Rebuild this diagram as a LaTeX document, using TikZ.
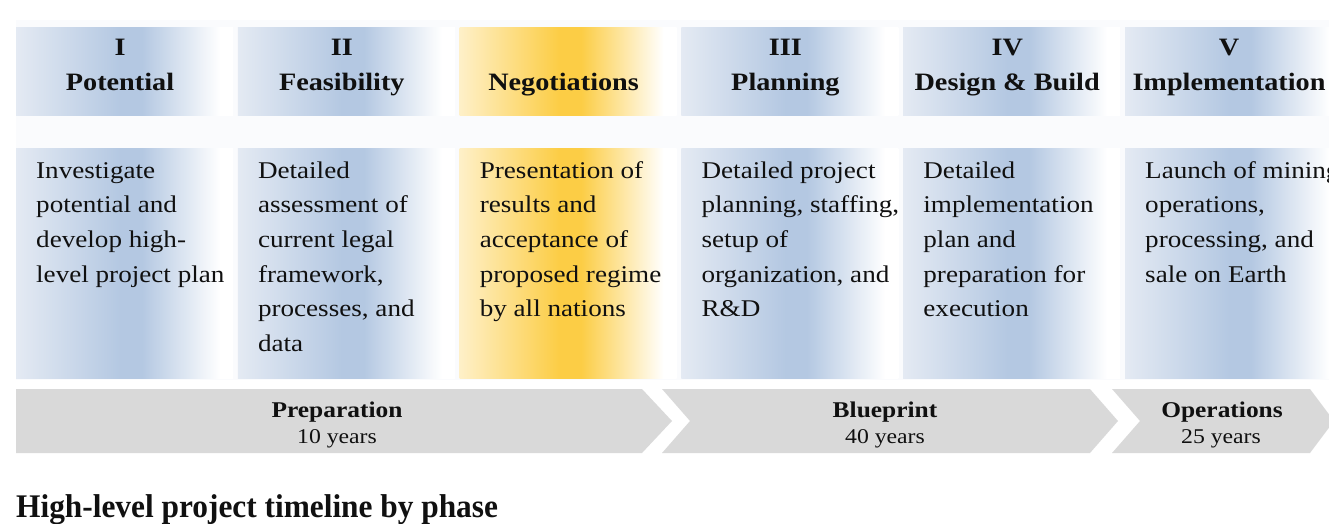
\documentclass[tikz,border=0pt]{standalone}
\usepackage{fontspec}
\setmainfont{Liberation Serif}[FakeStretch=1.13]
\newfontfamily\titlefamily{Liberation Serif}[FakeStretch=0.95]

% palette
\definecolor{bandbg}{HTML}{FAFBFD}
\definecolor{bluelite}{HTML}{E4EAF3}
\definecolor{bluedeep}{HTML}{B4C8E2}
\definecolor{goldlite}{HTML}{FEF0C8}
\definecolor{golddeep}{HTML}{FCCD45}
\definecolor{chevgray}{HTML}{D9D9D9}
\definecolor{ink}{HTML}{101010}

% column shadings: light at the left, deepest just past the middle, white at the right
\pgfdeclarehorizontalshading{bluecol}{100bp}{color(0bp)=(bluelite); color(25bp)=(bluelite);
  color(49bp)=(bluedeep); color(54bp)=(bluedeep); color(72bp)=(white); color(100bp)=(white)}
\pgfdeclarehorizontalshading{goldcol}{100bp}{color(0bp)=(goldlite); color(25bp)=(goldlite);
  color(48bp)=(golddeep); color(53bp)=(golddeep); color(72bp)=(white); color(100bp)=(white)}

\newcommand{\hdrfont}{\fontsize{25}{35}\selectfont\bfseries}
\newcommand{\bodytextfont}{\fontsize{24}{34.7}\selectfont}
\newcommand{\chevheadfont}{\fontsize{22.5}{27}\selectfont\bfseries}
\newcommand{\chevsubfont}{\fontsize{21}{26}\selectfont}

\begin{document}
\begin{tikzpicture}[x=1pt,y=-1pt,
  colbox/.style={draw=none, minimum width=217pt, inner sep=0pt, outer sep=0pt, anchor=north west},
  hdrbox/.style={colbox, minimum height=88pt},
  bodybox/.style={colbox, minimum height=230pt},
  bluefill/.style={shade, shading=bluecol},
  goldfill/.style={shade, shading=goldcol},
  hdrtext/.style={anchor=north, inner sep=0pt, align=center, text=ink, font=\hdrfont},
  bodytext/.style={anchor=north west, inner sep=0pt, align=left, text=ink, font=\bodytextfont},
  chevron/.style={fill=chevgray, draw=none},
  chevhead/.style={anchor=base, inner sep=0pt, text=ink, font=\chevheadfont},
  chevsub/.style={anchor=base, inner sep=0pt, text=ink, font=\chevsubfont},
]
\useasboundingbox (0,0) rectangle (1329,524);
\clip (0,0) rectangle (1329,524);

% faint panel behind the columns
\fill[bandbg] (16,20) rectangle (1329,380);

% phase headers
\node[hdrbox, bluefill] (h1) at (16,28) {};
\node[hdrbox, bluefill] (h2) at (237.8,28) {};
\node[hdrbox, goldfill] (h3) at (459.6,28) {};
\node[hdrbox, bluefill] (h4) at (681.4,28) {};
\node[hdrbox, bluefill] (h5) at (903.2,28) {};
\node[hdrbox, bluefill] (h6) at (1125,28) {};

% phase descriptions
\node[bodybox, bluefill] (b1) at (16,148) {};
\node[bodybox, bluefill] (b2) at (237.8,148) {};
\node[bodybox, goldfill] (b3) at (459.6,148) {};
\node[bodybox, bluefill] (b4) at (681.4,148) {};
\node[bodybox, bluefill] (b5) at (903.2,148) {};
\node[bodybox, bluefill] (b6) at (1125,148) {};

% header labels
\node[hdrtext] (ht1) at (120,30.5) {\strut I\\Potential};
\node[hdrtext] (ht2) at (341.8,30.5) {\strut II\\Feasibility};
\node[hdrtext] (ht3) at (563.6,30.5) {\strut\\Negotiations};
\node[hdrtext] (ht4) at (785.4,30.5) {\strut III\\Planning};
\node[hdrtext] (ht5) at (1007.2,30.5) {\strut IV\\Design \& Build};
\node[hdrtext] (ht6) at (1229,30.5) {\strut V\\Implementation};

% description texts
\node[bodytext] (bt1) at (36,153.7) {\strut Investigate\\potential and\\develop high-\\level project plan};
\node[bodytext] (bt2) at (257.8,153.7) {\strut Detailed\\assessment of\\current legal\\framework,\\processes, and\\data};
\node[bodytext] (bt3) at (479.6,153.7) {\strut Presentation of\\results and\\acceptance of\\proposed regime\\by all nations};
\node[bodytext] (bt4) at (701.4,153.7) {\strut Detailed project\\planning, staffing,\\setup of\\organization, and\\R\&D};
\node[bodytext] (bt5) at (923.2,153.7) {\strut Detailed\\implementation\\plan and\\preparation for\\execution};
\node[bodytext] (bt6) at (1145,153.7) {\strut Launch of mining\\operations,\\processing, and\\sale on Earth};

% timeline chevrons
\fill[chevron] (16,389) -- (642,389) -- (672,421) -- (642,453) -- (16,453) -- cycle;
\fill[chevron] (662,389) -- (1090,389) -- (1118,421) -- (1090,453) -- (662,453) -- (690,421) -- cycle;
\fill[chevron] (1112,389) -- (1310,389) -- (1334,421) -- (1310,453) -- (1112,453) -- (1140,421) -- cycle;

\node[chevhead] (prep) at (337,417) {Preparation};
\node[chevsub] (prepyrs) at (337,443) {10 years};
\node[chevhead] (blue) at (885,417) {Blueprint};
\node[chevsub] (blueyrs) at (885,443) {40 years};
\node[chevhead] (ops) at (1222,417) {Operations};
\node[chevsub] (opsyrs) at (1221,443) {25 years};

% caption
\node[anchor=base west, inner sep=0pt, text=ink,
      font=\titlefamily\bfseries\fontsize{33}{40}\selectfont] (title) at (16,517)
  {High-level project timeline by phase};
\end{tikzpicture}
\end{document}
